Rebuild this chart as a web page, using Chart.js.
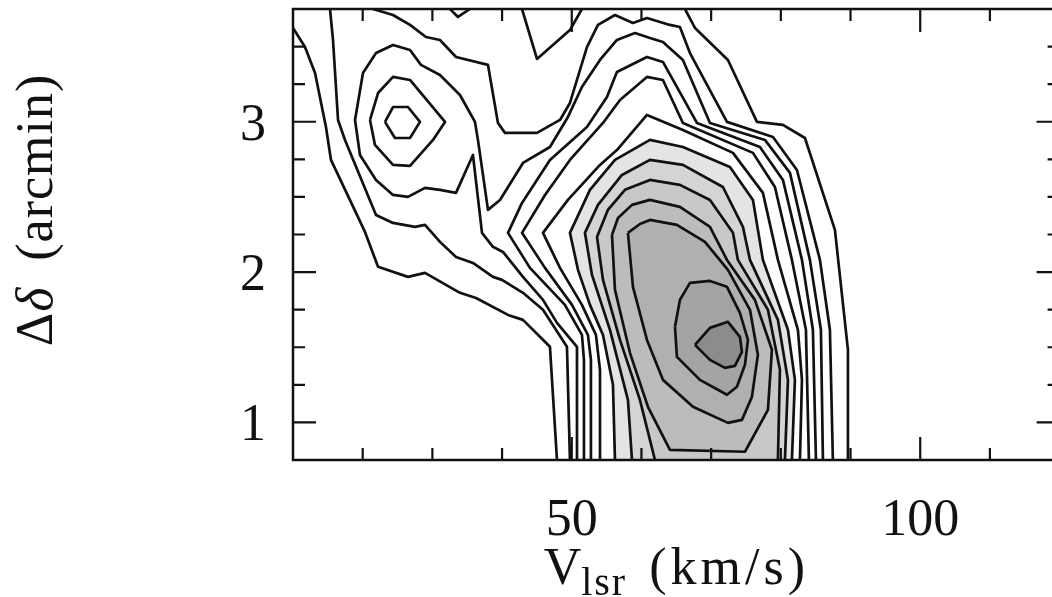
<!DOCTYPE html>
<html>
<head>
<meta charset="utf-8">
<script src="https://cdn.jsdelivr.net/npm/chart.js@4.4.1/dist/chart.umd.min.js"></script>
<style>
  html, body { margin: 0; padding: 0; background: #fff; overflow: hidden; }
  #wrap { width: 1072px; height: 597px; }
</style>
</head>
<body>
<div id="wrap"><canvas id="pvChart" width="1072" height="597"></canvas></div>
<script>
// tick positions and labels
const xMajorTicks = [50, 100];
const xMinorTicks = [20, 30, 40, 60, 70, 80, 90, 110];
const yMajorTicks = [1, 2, 3];
const yMinorTicks = [1.25, 1.5, 1.75, 2.25, 2.5, 2.75, 3.25, 3.5];
const xTickLabels = ['50', '100'];
const yTickLabels = ['1', '2', '3'];

// contour lines, points are [V_lsr (km/s), offset (arcmin)]
const level1West = [[10,3.624],[11.72,3.497],[13.16,3.324],[14.73,2.965],[15.45,2.746],[20.33,2.267],[22.2,2.035],[26.5,1.968],[28.94,1.995],[33.96,1.862],[36.26,1.828],[40.85,1.715],[43,1.682],[46.87,1.503],[47.88,0.75]];
const level1East = [[66.24,3.75],[67.68,3.624],[72.41,3.411],[76.57,2.999],[80.3,2.979],[83.46,2.892],[87.76,2.281],[89.63,1.483],[89.63,0.75]];
const level1NotchA = [[32.53,3.75],[33.67,3.697],[35.39,3.75]];
const level1NotchB = [[42.86,3.75],[45.01,3.418],[49.74,3.61],[51.46,3.75]];
const level2West = [[15.31,3.75],[15.74,3.544],[16.46,3.012],[17.46,2.879],[21.91,2.38],[24.35,2.327],[27.5,2.301],[28.94,2.314],[31.09,2.201],[33.39,2.101],[35.82,2.061],[38.69,1.968],[39.99,1.948],[43,1.862],[45.87,1.749],[49.31,1.503],[49.74,0.75]];
const level2East = [[21.48,3.75],[24.35,3.71],[26.79,3.644],[29.08,3.564],[31.09,3.544],[33.39,3.431],[37.98,3.378],[39.41,2.992],[40.42,2.926],[45.01,2.926],[48.31,3.012],[49.74,3.125],[52.18,3.497],[53.76,3.644],[56.2,3.71],[58.78,3.657],[60.79,3.69],[64.09,3.644],[65.52,3.63],[66.96,3.457],[72.27,2.999],[78.87,2.899],[82.31,2.679],[85.61,2.081],[87.04,1.616],[87.47,0.75]];
const level3 = [[50.75,0.75],[50.75,1.503],[47.88,1.662],[45.87,1.815],[43,1.968],[40.13,2.134],[38.69,2.168],[37.12,2.261],[35.82,2.779],[33.39,2.527],[31.09,2.547],[28.94,2.56],[26.5,2.5],[24.35,2.513],[21.91,2.613],[19.61,2.779],[18.9,3.012],[20.04,3.324],[21.91,3.457],[24.35,3.511],[26.79,3.477],[28.36,3.378],[31.09,3.311],[33.96,3.178],[36.11,2.999],[36.54,2.879],[37.98,2.414],[39.7,2.48],[43,2.726],[46.87,2.832],[49.45,3.032],[51.46,3.231],[54.05,3.411],[56.48,3.544],[59.07,3.59],[61.22,3.557],[63.08,3.531],[65.95,3.411],[69.83,2.992],[77.72,2.879],[81.31,2.66],[84.17,2.081],[85.75,1.616],[86.04,0.75]];
const level4Knot = [[21.05,3.012],[22.2,3.191],[24.35,3.298],[26.79,3.278],[31.81,2.999],[30.09,2.879],[26.79,2.706],[24.35,2.713],[21.76,2.846],[21.05,3.012]];
const level5Knot = [[23.2,2.999],[24.35,3.098],[26.5,3.098],[28.22,2.999],[26.79,2.892],[24.63,2.892],[23.2,2.999]];
const level4Main = [[51.75,0.75],[51.75,1.416],[51.46,1.582],[49.02,1.782],[44,2.028],[40.85,2.261],[42.86,2.46],[46.87,2.746],[52.18,2.965],[55.05,3.165],[56.48,3.331],[60.79,3.431],[63.08,3.398],[67.96,2.992],[77,2.832],[80.3,2.613],[83.03,2.081],[84.6,1.616],[85.04,0.75]];
const level5Main = [[52.75,0.75],[52.75,1.416],[52.32,1.582],[50.03,1.782],[46.16,2.028],[42.86,2.261],[46.16,2.513],[49.74,2.746],[54.48,2.992],[56.92,3.145],[60.79,3.298],[63.08,3.278],[65.95,2.992],[76,2.793],[79.15,2.566],[81.59,2.081],[83.6,1.616],[84.03,0.75]];
const level6 = [[54.05,0.75],[54.05,1.35],[53.47,1.582],[51.46,1.782],[48.31,2.028],[45.87,2.261],[49.45,2.48],[54.05,2.713],[56.48,2.812],[60.79,3.045],[65.95,2.945],[73.13,2.793],[77.43,2.527],[79.58,2.081],[82.45,1.616],[83.03,1.283],[82.74,0.75]];
const level7 = [[56.2,0.75],[55.91,1.25],[54.48,1.582],[52.61,1.782],[50.89,2.015],[49.74,2.261],[52.61,2.547],[56.2,2.746],[61.22,2.879],[65.95,2.832],[72.7,2.699],[76,2.48],[77.43,2.081],[81.02,1.616],[82.02,1.283],[81.59,0.75]];
const level8 = [[58.64,0.75],[58.06,1.15],[55.48,1.616],[52.9,1.981],[51.89,2.261],[53.76,2.447],[57.2,2.646],[61.22,2.746],[65.95,2.713],[71.69,2.566],[74.56,2.301],[75.57,2.081],[79.58,1.682],[81.02,1.283],[80.59,0.75]];
const level9 = [[61.94,0.75],[59.78,1.15],[56.92,1.549],[54.48,1.948],[53.62,2.234],[55.19,2.414],[57.63,2.547],[61.22,2.613],[65.52,2.58],[69.83,2.48],[73.13,2.261],[73.84,2.081],[78.15,1.749],[79.87,1.35],[79.58,0.75]];
const level10 = [[55.77,2.247],[56.63,2.36],[58.64,2.447],[61.22,2.48],[65.52,2.434],[69.83,2.301],[72.27,2.081],[76.28,1.815],[78.72,1.483],[78.15,1.084],[74.85,0.805],[64.09,0.818],[60.93,1.104],[58.35,1.463],[56.2,1.882],[55.77,2.247]];
const level11 = [[58.06,2.261],[59.78,2.32],[61.22,2.347],[65.09,2.314],[69.11,2.201],[72.41,2.015],[75.57,1.749],[76.71,1.45],[75.85,1.17],[74.42,1.017],[72.41,0.997],[67.39,1.104],[63.08,1.283],[60.79,1.549],[58.78,1.902],[58.06,2.261]];
const level12 = [[64.81,1.636],[65.52,1.815],[66.96,1.928],[69.83,1.941],[72.27,1.902],[74.13,1.729],[75.28,1.549],[74.85,1.383],[73.7,1.237],[72.27,1.184],[68.39,1.283],[65.09,1.436],[64.81,1.636]];
const level13 = [[67.68,1.516],[69.83,1.629],[72.41,1.669],[74.13,1.569],[74.42,1.469],[73.41,1.376],[71.98,1.363],[69.83,1.416],[67.68,1.516]];

// grey shading of the inner levels
const shade = {7: '#e4e4e4', 8: '#d4d4d4', 9: '#c8c8c8', 10: '#bcbcbc', 11: '#b0b0b0', 12: '#a4a4a4', 13: '#8c8c8c'};

function contour(points, level) {
  return {
    data: points.map(p => ({x: p[0], y: p[1]})),
    showLine: true,
    borderColor: '#111',
    borderWidth: 2.7,
    borderJoinStyle: 'round',
    pointRadius: 0,
    tension: 0,
    fill: shade[level] ? 'shape' : false,
    backgroundColor: shade[level] || 'transparent',
    order: -level
  };
}

const serif = '"Liberation Serif", "Times New Roman", serif';

const frameAxes = {
  id: 'frameAxes',
  afterDatasetsDraw(chart) {
    const {ctx, chartArea: a, scales: {x, y}} = chart;
    ctx.save();
    ctx.strokeStyle = '#111';
    ctx.lineWidth = 2.5;
    ctx.strokeRect(a.left, a.top, a.right - a.left, a.bottom - a.top);

    const xTicks = (vals, len) => vals.forEach(v => {
      const px = x.getPixelForValue(v);
      ctx.beginPath();
      ctx.moveTo(px, a.bottom); ctx.lineTo(px, a.bottom - len);
      ctx.moveTo(px, a.top); ctx.lineTo(px, a.top + len);
      ctx.stroke();
    });
    const yTicks = (vals, len) => vals.forEach(v => {
      const py = y.getPixelForValue(v);
      ctx.beginPath();
      ctx.moveTo(a.left, py); ctx.lineTo(a.left + len, py);
      ctx.moveTo(a.right, py); ctx.lineTo(a.right - len, py);
      ctx.stroke();
    });
    ctx.lineWidth = 2.2;
    xTicks(xMajorTicks, 23);
    xTicks(xMinorTicks, 12);
    yTicks(yMajorTicks, 23);
    yTicks(yMinorTicks, 12);

    // tick labels
    ctx.fillStyle = '#111';
    ctx.font = '52px ' + serif;
    ctx.textBaseline = 'alphabetic';
    ctx.textAlign = 'center';
    xMajorTicks.forEach((v, i) => ctx.fillText(xTickLabels[i], x.getPixelForValue(v), a.bottom + 75));
    ctx.textAlign = 'right';
    yMajorTicks.forEach((v, i) => ctx.fillText(yTickLabels[i], a.left - 27, y.getPixelForValue(v) + 18));

    // x title: V_lsr (km/s)
    ctx.textAlign = 'left';
    const base = a.bottom + 124;
    ctx.font = '52px ' + serif;
    ctx.letterSpacing = '0px';
    const wV = ctx.measureText('V').width;
    ctx.font = '40px ' + serif;
    ctx.letterSpacing = '2px';
    const wSub = ctx.measureText('lsr').width;
    ctx.font = '52px ' + serif;
    ctx.letterSpacing = '4px';
    const wUnit = ctx.measureText('(km/s)').width;
    const gap = 22;
    let cx = (a.left + a.right) / 2 - (wV + wSub + gap + wUnit) / 2;
    ctx.letterSpacing = '0px';
    ctx.fillText('V', cx, base);
    cx += wV;
    ctx.font = '40px ' + serif;
    ctx.letterSpacing = '2px';
    ctx.fillText('lsr', cx, base + 11);
    cx += wSub + gap;
    ctx.font = '52px ' + serif;
    ctx.letterSpacing = '4px';
    ctx.fillText('(km/s)', cx, base);

    // y title: Δδ (arcmin)
    ctx.letterSpacing = '1px';
    ctx.save();
    ctx.translate(52, a.top + 201);
    ctx.rotate(-Math.PI / 2);
    ctx.font = '52px ' + serif;
    const wD = ctx.measureText('Δ').width;
    ctx.font = 'italic 52px ' + serif;
    const wd = ctx.measureText('δ').width;
    ctx.font = '52px ' + serif;
    const wA = ctx.measureText('(arcmin)').width;
    const gapY = 26;
    let ty = -(wD + wd + gapY + wA) / 2;
    ctx.fillText('Δ', ty, 0);
    ty += wD;
    ctx.font = 'italic 52px ' + serif;
    ctx.fillText('δ', ty, 0);
    ty += wd + gapY;
    ctx.font = '52px ' + serif;
    ctx.fillText('(arcmin)', ty, 0);
    ctx.restore();
    ctx.restore();
  }
};

const datasets = [
  contour(level1West, 1), contour(level1East, 1), contour(level1NotchA, 1), contour(level1NotchB, 1),
  contour(level2West, 2), contour(level2East, 2),
  contour(level3, 3),
  contour(level4Knot, 4), contour(level5Knot, 5),
  contour(level4Main, 4), contour(level5Main, 5),
  contour(level6, 6), contour(level7, 7), contour(level8, 8), contour(level9, 9),
  contour(level10, 10), contour(level11, 11), contour(level12, 12), contour(level13, 13)
];

new Chart(document.getElementById('pvChart'), {
  type: 'scatter',
  data: { datasets: datasets },
  options: {
    responsive: false,
    animation: false,
    layout: { padding: { left: 293, top: 9, right: 12.4, bottom: 137 } },
    plugins: { legend: { display: false }, tooltip: { enabled: false } },
    scales: {
      x: { type: 'linear', min: 10, max: 120, display: false },
      y: { type: 'linear', min: 0.75, max: 3.75, display: false }
    }
  },
  plugins: [frameAxes]
});
</script>
</body>
</html>
